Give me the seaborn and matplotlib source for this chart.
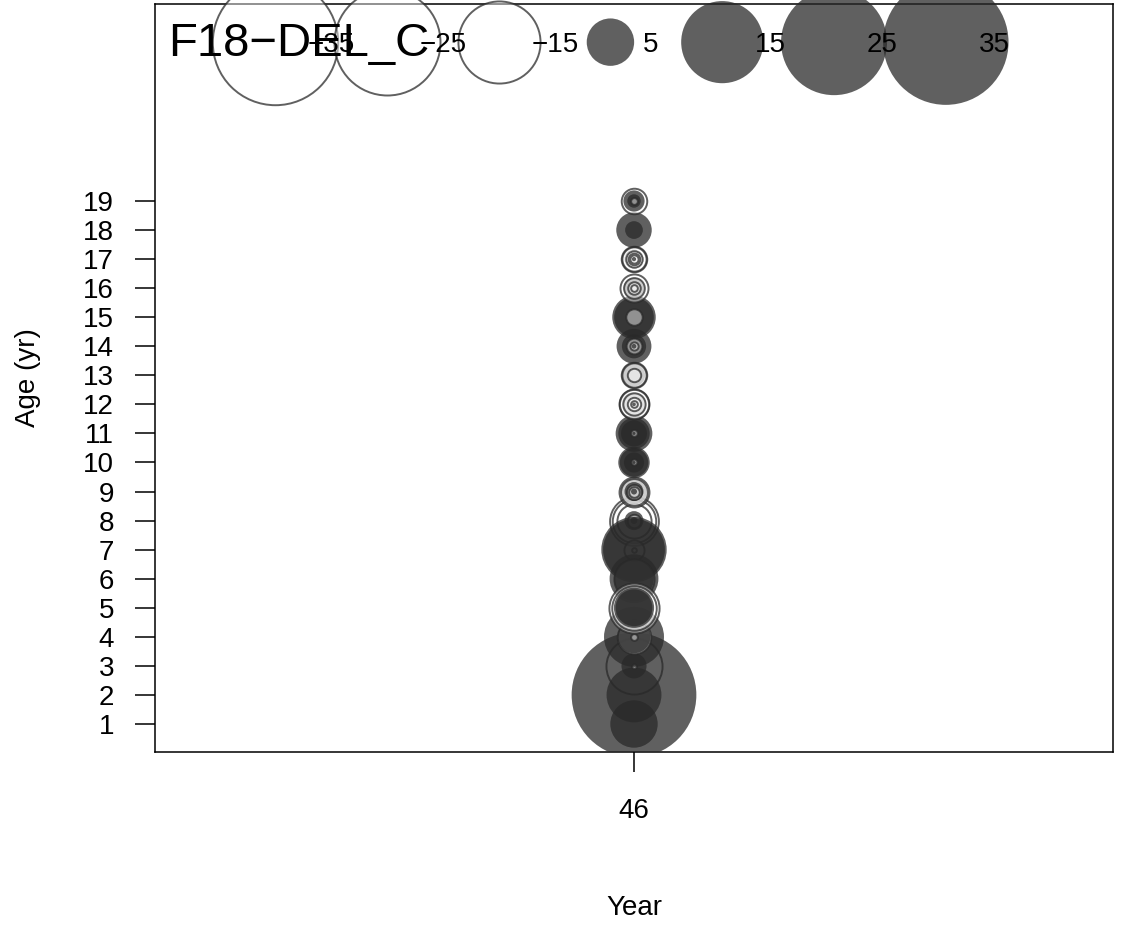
import numpy as np
import pandas as pd
import matplotlib
matplotlib.use("Agg")
import matplotlib.pyplot as plt
import seaborn as sns

# --- Data: residual bubbles for year 46, listed in drawing order ---
YEAR = 46
AGE = [8, 8, 8, 8, 8, 8,
       7, 7, 7, 7,
       6, 6, 6,
       1,
       3,
       2, 2,
       3, 3,
       4, 4, 4, 4,
       5, 5, 5, 5,
       9, 9, 9, 9, 9, 9, 9,
       10, 10, 10, 10, 10,
       11, 11, 11, 11, 11,
       12, 12, 12, 12, 12, 12, 12,
       13, 13, 13, 13,
       14, 14, 14, 14, 14,
       15, 15, 15,
       16, 16, 16, 16, 16, 16,
       17, 17, 17, 17, 17, 17, 17,
       18, 18,
       19, 19, 19, 19]
RESID = [-5.3, -4.2, -2.6, 0.8, -0.4, 0.1,
         -0.9, -0.05, 9.5, 8.5,
         -3.6, 5.3, 3.5,
         5.0,
         -7.0,
         34.6, 6.7,
         1.4, -0.05,
         8.0, -2.5, 2.4, -0.1,
         -5.6, -4.4, 3.6, 3.0,
         1.5, -2.0, -1.6, 0.8, -0.5, -0.25, 0.08,
         2.2, 1.8, 0.9, -0.08, 0.02,
         3.0, 2.2, 1.5, -0.1, 0.02,
         1.3, -2.0, -1.9, -1.1, -0.4, -0.1, 0.03,
         1.1, -1.45, -1.3, -0.4,
         2.7, 1.3, -0.55, -0.15, 0.05,
         4.2, 3.5, -0.6,
         1.0, 0.5, -1.75, -0.95, -0.35, -0.1,
         0.8, -1.45, -1.3, -0.6, -0.3, -0.15, 0.04,
         2.8, 0.7,
         -1.45, 1.0, 0.4, -0.1]
LEGEND_VALS = [-35, -25, -15, 5, 15, 25, 35]
AGE_TICKS = list(range(1, 20))
YEAR_TICKS = [46]
TITLE = "F18\u2212DEL_C"

# --- Style ---
SIZE_PER_UNIT = 233.0          # marker area (pt^2) per unit of |residual|
POS_FACE = (0.16, 0.16, 0.16, 0.74)
NEG_FACE = (1, 1, 1, 0.45)
NEG_EDGE = (0.16, 0.16, 0.16, 0.74)
NEG_LW = 1.4

sns.set_style("ticks")
plt.rcParams["font.family"] = ["Liberation Sans", "DejaVu Sans"]
plt.rcParams["font.size"] = 20
plt.rcParams["text.color"] = "black"
plt.rcParams["axes.labelcolor"] = "black"

fig = plt.figure(figsize=(11.46, 9.25), dpi=100)
ax = fig.add_axes([155 / 1146, 1 - 752 / 925, 958 / 1146, 748 / 925])

df = pd.DataFrame({"year": YEAR, "age": AGE, "resid": RESID})
df["abs_resid"] = df["resid"].abs()

for i in range(len(df)):
    row = df.iloc[[i]]
    if row["resid"].iloc[0] > 0:
        face, edge, lw = POS_FACE, "none", 0
    else:
        face, edge, lw = NEG_FACE, NEG_EDGE, NEG_LW
    sns.scatterplot(data=row, x="year", y="age", size="abs_resid",
                    sizes=(0, SIZE_PER_UNIT * 35), size_norm=(0, 35),
                    facecolor=face, edgecolor=edge, linewidth=lw,
                    legend=False, ax=ax, zorder=3)

# --- Legend bubbles across the top ---
for j, v in enumerate(LEGEND_VALS):
    xf = 0.1253 + j * 0.1167
    if v > 0:
        face, edge, lw = POS_FACE, "none", 0
    else:
        face, edge, lw = NEG_FACE, NEG_EDGE, NEG_LW
    ax.scatter([xf], [0.949], s=SIZE_PER_UNIT * abs(v), facecolor=face,
               edgecolor=edge, linewidth=lw, transform=ax.transAxes,
               clip_on=False, zorder=4)
    ax.text(xf + 0.034, 0.945, f"{v}".replace("-", "\u2212"),
            transform=ax.transAxes, ha="left", va="center", fontsize=20, zorder=5)

ax.text(0.0136, 0.947, TITLE, transform=ax.transAxes, ha="left", va="center",
        fontsize=34, zorder=5)

ax.set_xlim(45, 47)
ax.set_ylim(0.036, 25.78)
ax.set_xticks(YEAR_TICKS)
ax.set_yticks(AGE_TICKS)
ax.set_yticklabels([str(a) for a in AGE_TICKS])
ax.tick_params(direction="out", length=14.4, width=1.1, colors="black",
               labelsize=20)
ax.tick_params(axis="x", pad=19)
ax.tick_params(axis="y", pad=15)
for sp in ax.spines.values():
    sp.set_visible(True)
    sp.set_linewidth(1.1)
    sp.set_color("black")

ax.set_xlabel("Year", fontsize=20)
ax.set_ylabel("Age (yr)", fontsize=20)
ax.xaxis.set_label_coords(0.5, -0.2085)
ax.xaxis.label.set_va("center")
ax.yaxis.set_label_coords(-0.1330, 0.5)
ax.yaxis.label.set_va("center")

fig.savefig("out.png", dpi=100)
plt.close(fig)
